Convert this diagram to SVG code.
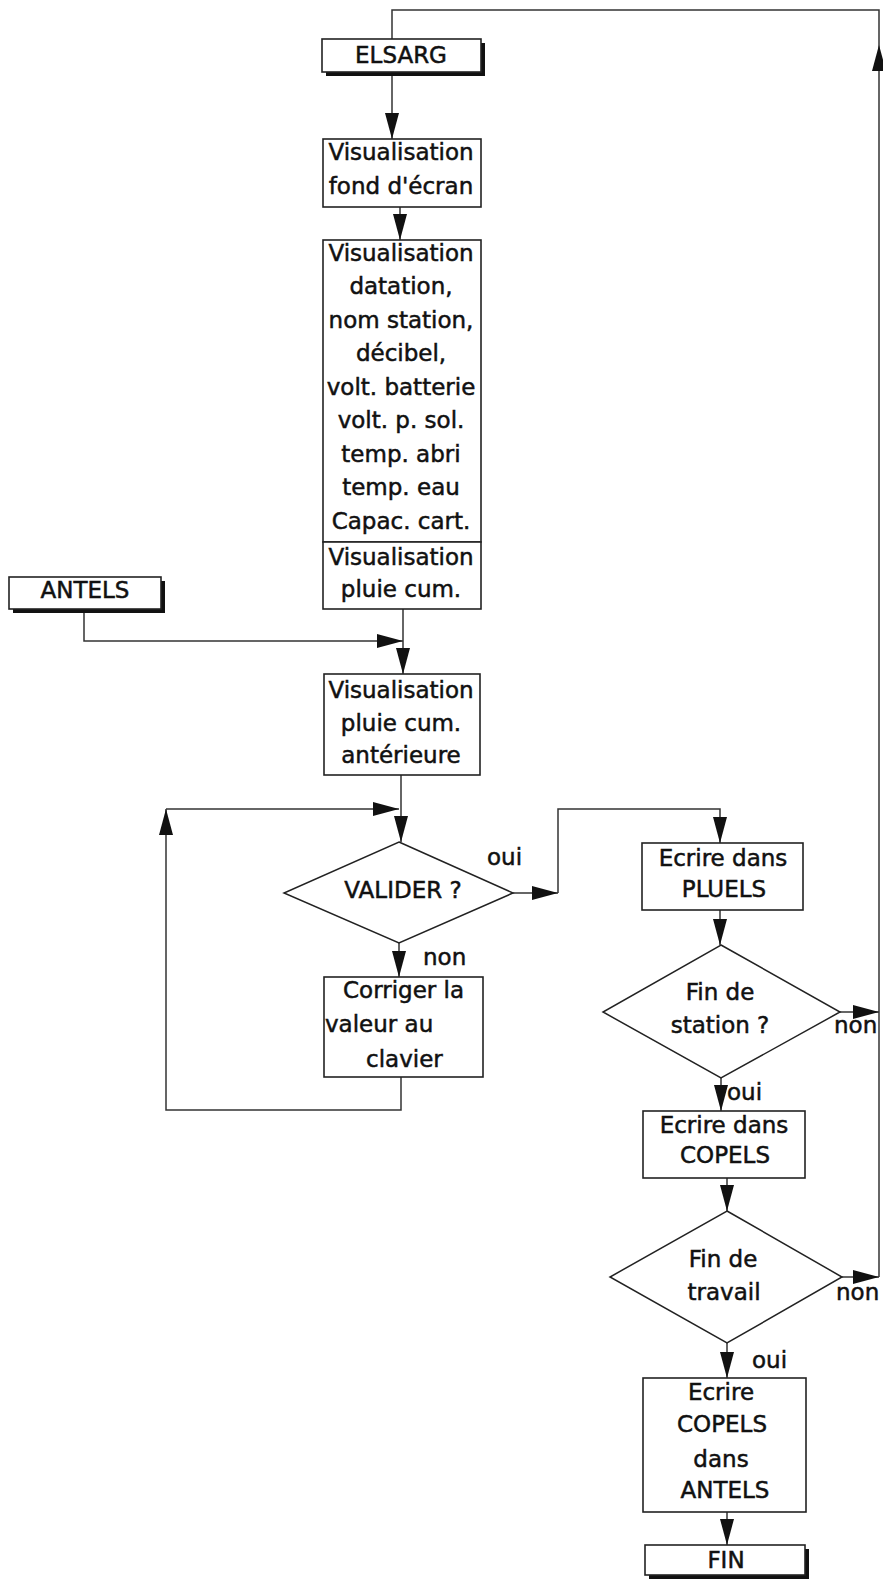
<svg xmlns="http://www.w3.org/2000/svg" width="883" height="1580" viewBox="0 0 883 1580">
  <style>
    text { font-family: "DejaVu Sans", "Liberation Sans", sans-serif; font-size: 23px; fill: #111; stroke: #111; stroke-width: 0.5; }
    .c { text-anchor: middle; }
    .s { text-anchor: start; }
    .box { fill: #fff; stroke: #222; stroke-width: 1.6; }
    .shadow { fill: #111; }
    .dia { fill: #fff; stroke: #222; stroke-width: 1.5; }
    .ln { fill: none; stroke: #333; stroke-width: 1.5; }
  </style>
  <defs>
    <marker id="ah" markerWidth="26" markerHeight="14" refX="26" refY="7" orient="auto" markerUnits="userSpaceOnUse">
      <path d="M0,0 L26,7 L0,14 z" fill="#111"/>
    </marker>
  </defs>
  <rect width="883" height="1580" fill="#fff"/>

  <!-- connectors -->
  <g id="connectors">
    <path class="ln" d="M392,72 V139" marker-end="url(#ah)"/>
    <path class="ln" d="M400,207 V240" marker-end="url(#ah)"/>
    <path class="ln" d="M84,612 V641 H403" marker-end="url(#ah)"/>
    <path class="ln" d="M403,609 V674" marker-end="url(#ah)"/>
    <path class="ln" d="M401,775 V842" marker-end="url(#ah)"/>
    <path class="ln" d="M401,1077 V1110 H166 V809" marker-end="url(#ah)"/>
    <path class="ln" d="M166,809 H399" marker-end="url(#ah)"/>
    <path class="ln" d="M513,893 H558" marker-end="url(#ah)"/>
    <path class="ln" d="M558,893 V809 H720 V843" marker-end="url(#ah)"/>
    <path class="ln" d="M399,943 V977" marker-end="url(#ah)"/>
    <path class="ln" d="M720,910 V945" marker-end="url(#ah)"/>
    <path class="ln" d="M840,1012 H879" marker-end="url(#ah)"/>
    <path class="ln" d="M721,1078 V1111" marker-end="url(#ah)"/>
    <path class="ln" d="M727,1178 V1211" marker-end="url(#ah)"/>
    <path class="ln" d="M842,1277 H879" marker-end="url(#ah)"/>
    <path class="ln" d="M879,1277 V45" marker-end="url(#ah)"/>
    <path class="ln" d="M879,45 V10 H392 V39"/>
    <path class="ln" d="M727,1343 V1378" marker-end="url(#ah)"/>
    <path class="ln" d="M727,1512 V1545" marker-end="url(#ah)"/>
    <text class="s" x="487" y="865">oui</text>
    <text class="s" x="423" y="965">non</text>
    <text class="s" x="834" y="1033">non</text>
    <text class="s" x="727" y="1100">oui</text>
    <text class="s" x="836" y="1300">non</text>
    <text class="s" x="752" y="1368">oui</text>
  </g>

  <!-- start terminal -->
  <g id="elsarg">
    <rect class="shadow" x="326" y="43" width="159" height="33"/>
    <rect class="box" x="322" y="39" width="159" height="33"/>
    <text class="c" x="401" y="63">ELSARG</text>
  </g>

  <g id="fond-ecran">
    <rect class="box" x="323" y="139" width="158" height="68"/>
    <text class="c" x="401" y="160">Visualisation</text>
    <text class="c" x="401" y="194">fond d'écran</text>
  </g>

  <g id="visu-donnees">
    <rect class="box" x="323" y="240" width="158" height="302"/>
    <text class="c" x="401" y="261">Visualisation</text>
    <text class="c" x="401" y="294">datation,</text>
    <text class="c" x="401" y="328">nom station,</text>
    <text class="c" x="401" y="361">décibel,</text>
    <text class="c" x="401" y="395">volt. batterie</text>
    <text class="c" x="401" y="428">volt. p. sol.</text>
    <text class="c" x="401" y="462">temp. abri</text>
    <text class="c" x="401" y="495">temp. eau</text>
    <text class="c" x="401" y="529">Capac. cart.</text>
  </g>

  <g id="visu-pluie">
    <rect class="box" x="323" y="542" width="158" height="67"/>
    <text class="c" x="401" y="565">Visualisation</text>
    <text class="c" x="401" y="597">pluie cum.</text>
  </g>

  <g id="antels">
    <rect class="shadow" x="13" y="581" width="152" height="32"/>
    <rect class="box" x="9" y="577" width="152" height="32"/>
    <text class="c" x="85" y="598">ANTELS</text>
  </g>

  <g id="visu-anterieure">
    <rect class="box" x="324" y="674" width="156" height="101"/>
    <text class="c" x="401" y="698">Visualisation</text>
    <text class="c" x="401" y="731">pluie cum.</text>
    <text class="c" x="401" y="763">antérieure</text>
  </g>

  <g id="valider">
    <polygon class="dia" points="399,842 513,893 399,943 284,893"/>
    <text class="c" x="403" y="898">VALIDER ?</text>
  </g>

  <g id="corriger">
    <rect class="box" x="324" y="977" width="159" height="100"/>
    <text class="s" x="343" y="998">Corriger la</text>
    <text class="s" x="325" y="1032">valeur au</text>
    <text class="s" x="366" y="1067">clavier</text>
  </g>

  <g id="ecrire-pluels">
    <rect class="box" x="642" y="843" width="161" height="67"/>
    <text class="c" x="723" y="866">Ecrire dans</text>
    <text class="c" x="724" y="897">PLUELS</text>
  </g>

  <g id="fin-station">
    <polygon class="dia" points="721,945 840,1012 721,1078 603,1012"/>
    <text class="c" x="720" y="1000">Fin de</text>
    <text class="c" x="720" y="1033">station ?</text>
  </g>

  <g id="ecrire-copels">
    <rect class="box" x="643" y="1111" width="162" height="67"/>
    <text class="c" x="724" y="1133">Ecrire dans</text>
    <text class="c" x="725" y="1163">COPELS</text>
  </g>

  <g id="fin-travail">
    <polygon class="dia" points="727,1211 842,1277 727,1343 610,1277"/>
    <text class="c" x="723" y="1267">Fin de</text>
    <text class="c" x="724" y="1300">travail</text>
  </g>

  <g id="ecrire-antels">
    <rect class="box" x="643" y="1378" width="163" height="134"/>
    <text class="c" x="721" y="1400">Ecrire</text>
    <text class="c" x="722" y="1432">COPELS</text>
    <text class="c" x="721" y="1467">dans</text>
    <text class="c" x="725" y="1498">ANTELS</text>
  </g>

  <!-- end terminal -->
  <g id="fin">
    <rect class="shadow" x="649" y="1549" width="160" height="30"/>
    <rect class="box" x="645" y="1545" width="160" height="30"/>
    <text class="c" x="726" y="1568">FIN</text>
  </g>
</svg>
